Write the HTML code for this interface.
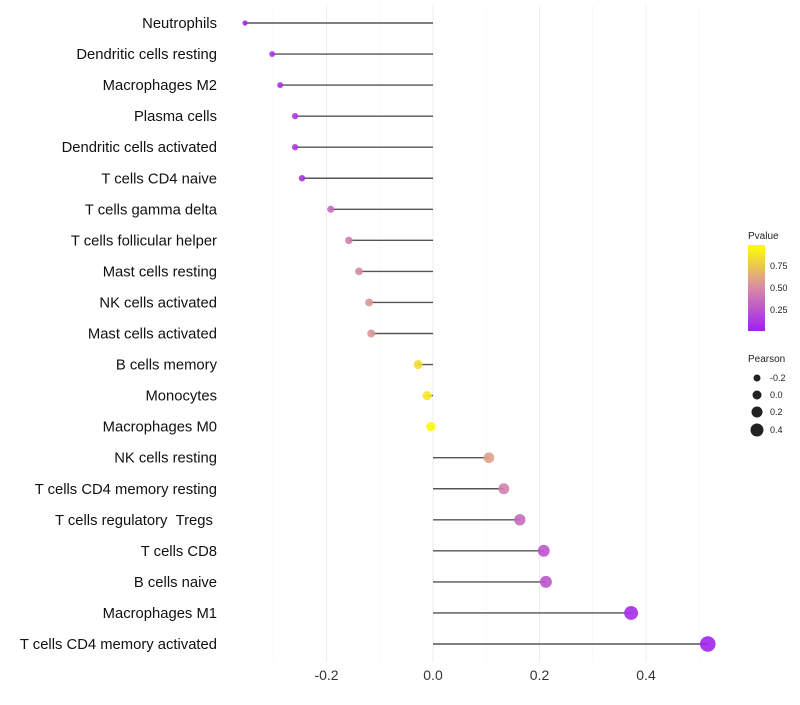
<!DOCTYPE html>
<html><head><meta charset="utf-8"><style>
body{margin:0;background:#fff;font-family:"Liberation Sans",sans-serif}
</style></head><body>
<svg id="chart" width="800" height="700" xmlns="http://www.w3.org/2000/svg">
<defs><linearGradient id="pg" x1="0" y1="1" x2="0" y2="0">
<stop offset="0" stop-color="#a020f0"/><stop offset="0.5" stop-color="#d78aa8"/><stop offset="1" stop-color="#ffff00"/></linearGradient></defs>
<g id="grid"></g><g id="marks"></g><g id="labels"></g>
<g font-size="9" fill="#222">
<text x="748" y="239" font-size="10">Pvalue</text>
<rect x="748" y="245" width="17" height="86" fill="url(#pg)"/>
<text x="770" y="291" >0.50</text><text x="770" y="269">0.75</text><text x="770" y="313">0.25</text>
</g>
<g font-size="9" fill="#222">
<text x="748" y="362" font-size="10">Pearson</text>
<circle cx="757" cy="378" r="3.5"/><text x="770" y="381">-0.2</text>
<circle cx="757" cy="395" r="4.5"/><text x="770" y="398">0.0</text>
<circle cx="757" cy="412" r="5.5"/><text x="770" y="415">0.2</text>
<circle cx="757" cy="430" r="6.5"/><text x="770" y="433">0.4</text>
</g>
</svg>
<script>
const categories=["Neutrophils","Dendritic cells resting","Macrophages M2","Plasma cells","Dendritic cells activated","T cells CD4 naive","T cells gamma delta","T cells follicular helper","Mast cells resting","NK cells activated","Mast cells activated","B cells memory","Monocytes","Macrophages M0","NK cells resting","T cells CD4 memory resting","T cells regulatory\u00a0\u00a0Tregs\u00a0","T cells CD8","B cells naive","Macrophages M1","T cells CD4 memory activated"];
const pearson=[-0.353,-0.302,-0.287,-0.259,-0.259,-0.246,-0.192,-0.158,-0.139,-0.120,-0.116,-0.028,-0.011,-0.004,0.105,0.133,0.163,0.208,0.212,0.372,0.516];
const pvalues=[0.03,0.08,0.08,0.12,0.12,0.1,0.35,0.45,0.5,0.55,0.55,0.85,0.9,0.97,0.6,0.45,0.35,0.25,0.25,0.05,0.02];
const ticks=[-0.2,0,0.2,0.4];
const tickLabels=["-0.2","0.0","0.2","0.4"];
const minor=[-0.3,-0.1,0.1,0.3,0.5];
const NS="http://www.w3.org/2000/svg";
const x=v=>433+v*532.5;
const y=i=>23+i*31.05;
function mk(t,a,p){const e=document.createElementNS(NS,t);for(const k in a)e.setAttribute(k,a[k]);p.appendChild(e);return e;}
function hex(h){return [1,3,5].map(i=>parseInt(h.substr(i,2),16));}
function col(p){const s=[hex("#a020f0"),hex("#d78aa8"),hex("#ffff00")];let a,b,t;if(p<0.5){a=s[0];b=s[1];t=p/0.5}else{a=s[1];b=s[2];t=(p-0.5)/0.5}
return "rgb("+a.map((c,i)=>Math.round(c+(b[i]-c)*t)).join(",")+")";}
const g=document.getElementById("grid"),m=document.getElementById("marks"),l=document.getElementById("labels");
minor.forEach(v=>{const e=mk("line",{x1:x(v),x2:x(v),y1:5,y2:662,stroke:"#f4f4f4","stroke-width":0.6},g);

});
ticks.forEach((v,i)=>{const e=mk("line",{x1:x(v),x2:x(v),y1:5,y2:662,stroke:"#ededed","stroke-width":1},g);


const t=mk("text",{x:x(v),y:680,"text-anchor":"middle","font-size":14,fill:"#333"},l);t.textContent=tickLabels[i];

});
categories.forEach((c,i)=>{
const ln=mk("line",{x1:x(0),x2:x(pearson[i]),y1:y(i),y2:y(i),stroke:"#555","stroke-width":1.4},m);


const r=Math.max(2,4.7+6*pearson[i]);
const ci=mk("circle",{cx:x(pearson[i]),cy:y(i),r:r,fill:col(pvalues[i]),"fill-opacity":0.9},m);


const t=mk("text",{x:217,y:y(i)+5,"text-anchor":"end","font-size":14.8,fill:"#111"},l);t.textContent=c;


});
</script>
</body></html>
